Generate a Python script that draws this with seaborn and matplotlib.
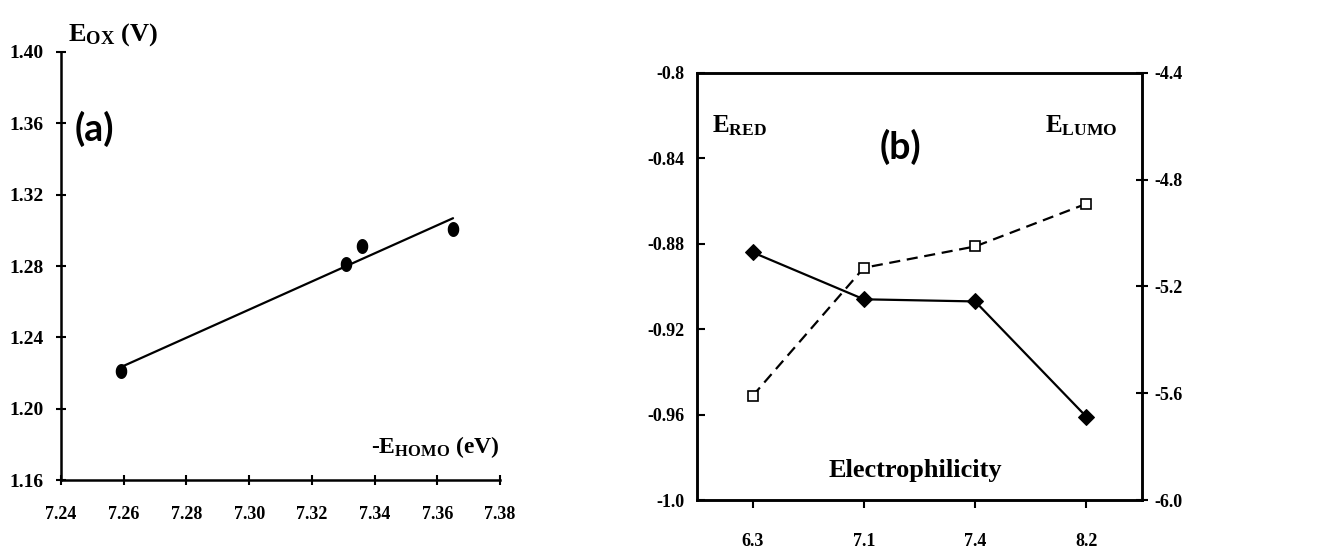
import numpy as np
import pandas as pd
import matplotlib
matplotlib.use("Agg")
import matplotlib.pyplot as plt
import seaborn as sns

# panel (a): Eox vs -E_HOMO
e_homo = [7.259, 7.331, 7.336, 7.365]
e_ox = [1.221, 1.281, 1.291, 1.301]
a_xticks = [7.24, 7.26, 7.28, 7.30, 7.32, 7.34, 7.36, 7.38]
a_yticks = [1.16, 1.20, 1.24, 1.28, 1.32, 1.36, 1.40]

# panel (b): E_RED and E_LUMO vs electrophilicity
electro = ['6.3', '7.1', '7.4', '8.2']
e_red = [-0.884, -0.906, -0.907, -0.961]
e_lumo = [-5.61, -5.13, -5.05, -4.89]
b_left_ticks = [-1.0, -0.96, -0.92, -0.88, -0.84, -0.8]
b_left_labels = ['-1.0', '-0.96', '-0.92', '-0.88', '-0.84', '-0.8']
b_right_ticks = [-6.0, -5.6, -5.2, -4.8, -4.4]
b_right_labels = ['-6.0', '-5.6', '-5.2', '-4.8', '-4.4']

sns.set_theme(style="ticks")
plt.rcParams['font.family'] = ['Liberation Serif', 'DejaVu Serif']
plt.rcParams['font.weight'] = 'bold'
plt.rcParams['text.color'] = 'black'
plt.rcParams['mathtext.fontset'] = 'custom'
plt.rcParams['mathtext.rm'] = 'Liberation Serif:bold'
plt.rcParams['mathtext.bf'] = 'Liberation Serif:bold'
plt.rcParams['mathtext.it'] = 'Liberation Serif:bold'

fig = plt.figure(figsize=(13.36, 5.52), dpi=100)
ax1 = fig.add_axes([0.0457, 0.1304, 0.3286, 0.7754])
ax2 = fig.add_axes([0.5217, 0.0942, 0.3331, 0.7736])

# ---- (a)
t = np.linspace(0, 2 * np.pi, 40)
ellipse = list(zip(0.75 * np.cos(t), np.sin(t)))
df_a = pd.DataFrame({'homo': e_homo, 'eox': e_ox})
sns.regplot(data=df_a, x='homo', y='eox', ax=ax1, ci=None, truncate=True,
            color='black', marker=ellipse,
            scatter_kws={'s': 95, 'color': 'black', 'alpha': 1},
            line_kws={'color': 'black', 'lw': 1.6})
ax1.set_xlim(7.24, 7.38)
ax1.set_ylim(1.16, 1.40)
ax1.set_xticks(a_xticks)
ax1.set_xticklabels([f'{v:.2f}' for v in a_xticks])
ax1.set_yticks(a_yticks)
ax1.set_yticklabels([f'{v:.2f}' for v in a_yticks])
ax1.set_xlabel('')
ax1.set_ylabel('')
sns.despine(ax=ax1)
for s in ['left', 'bottom']:
    ax1.spines[s].set_linewidth(1.8)
    ax1.spines[s].set_color('black')
ax1.tick_params(axis='x', direction='inout', length=7, width=1.5, pad=15,
                labelsize=13, colors='black')
ax1.tick_params(axis='y', direction='inout', length=7, width=1.5, pad=9,
                labelsize=14, colors='black')
fig.text(0.051, 0.927, r'E$_{\rm OX}$ (V)', fontsize=19, fontweight='bold',
         va='baseline', ha='left')
ax1.text(0.03, 0.82, '(a)', transform=ax1.transAxes, fontsize=27,
         fontweight='bold', family=['Lato', 'DejaVu Sans'], va='center', ha='left')
ax1.text(1.0, 0.063, r'-E$_{\rm HOMO}$ (eV)', transform=ax1.transAxes,
         fontsize=17, fontweight='bold', va='baseline', ha='right')

# ---- (b)
df_b = pd.DataFrame({'electro': electro, 'red': e_red, 'lumo': e_lumo})
sns.lineplot(data=df_b, x='electro', y='red', ax=ax2, color='black', lw=1.6,
             marker='D', markersize=8, markerfacecolor='black',
             markeredgecolor='black')
ax3 = ax2.twinx()
sns.lineplot(data=df_b, x='electro', y='lumo', ax=ax3, color='black', lw=1.6,
             linestyle=(0, (5, 3)), marker='s', markersize=7,
             markerfacecolor='white', markeredgecolor='black', markeredgewidth=1.2)
ax2.set_xlim(-0.5, 3.5)
ax2.set_ylim(-1.0, -0.8)
ax3.set_ylim(-6.0, -4.4)
ax2.set_yticks(b_left_ticks)
ax2.set_yticklabels(b_left_labels)
ax3.set_yticks(b_right_ticks)
ax3.set_yticklabels(b_right_labels)
ax2.set_xticks(range(len(electro)))
ax2.set_xticklabels(electro)
for a in [ax2, ax3]:
    a.set_xlabel('')
    a.set_ylabel('')
    for s in a.spines.values():
        s.set_linewidth(1.8)
        s.set_color('black')
ax2.tick_params(axis='x', direction='out', length=6, width=1.5, pad=18,
                labelsize=13, colors='black')
ax2.tick_params(axis='y', direction='in', length=6, width=1.5, pad=9,
                labelsize=13, colors='black')
ax3.tick_params(axis='y', direction='inout', length=8, width=1.5, pad=5,
                labelsize=13, colors='black')
ax2.text(0.034, 0.862, r'E$_{\rm RED}$', transform=ax2.transAxes, fontsize=18,
         fontweight='bold', va='baseline', ha='left')
ax2.text(0.945, 0.86, r'E$_{\rm LUMO}$', transform=ax2.transAxes, fontsize=18,
         fontweight='bold', va='baseline', ha='right')
ax2.text(0.41, 0.827, '(b)', transform=ax2.transAxes, fontsize=27,
         fontweight='bold', family=['Lato', 'DejaVu Sans'], va='center', ha='left')
ax2.text(0.49, 0.054, 'Electrophilicity', transform=ax2.transAxes, fontsize=19,
         fontweight='bold', va='baseline', ha='center')

fig.savefig('out.png', dpi=100)
